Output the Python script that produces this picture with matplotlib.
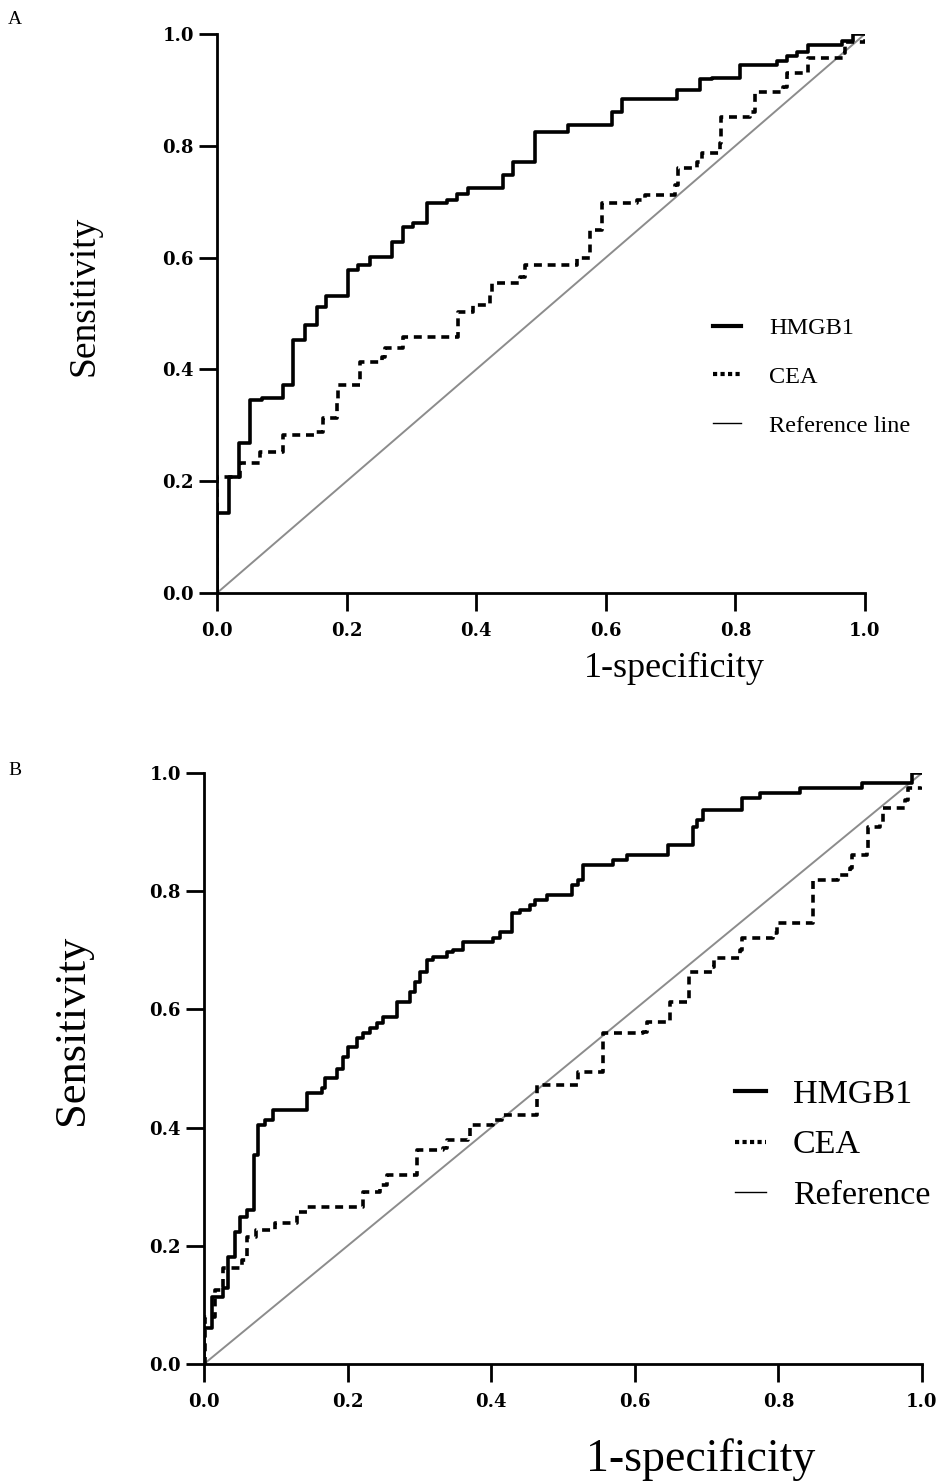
import numpy as np
import matplotlib.pyplot as plt
from matplotlib.lines import Line2D

# ROC step corners (x = 1-specificity, y = sensitivity)
hmgb1_a_x = [0.0, 0.0, 0.018, 0.034, 0.051, 0.069, 0.102, 0.118, 0.136, 0.154, 0.168, 0.202, 0.218,
             0.236, 0.27, 0.287, 0.302, 0.324, 0.355, 0.37, 0.387, 0.441, 0.457, 0.491, 0.542, 0.61,
             0.625, 0.71, 0.745, 0.764, 0.807, 0.864, 0.88, 0.895, 0.912, 0.964, 0.981, 1.0]
hmgb1_a_y = [0.0, 0.143, 0.208, 0.268, 0.345, 0.349, 0.372, 0.453, 0.479, 0.512, 0.531, 0.578, 0.587,
             0.601, 0.628, 0.655, 0.662, 0.698, 0.703, 0.714, 0.725, 0.748, 0.771, 0.825, 0.837, 0.86,
             0.884, 0.9, 0.919, 0.922, 0.945, 0.951, 0.96, 0.968, 0.98, 0.987, 1.0, 1.0]

cea_a_x = [0.0, 0.0, 0.035, 0.066, 0.102, 0.151, 0.164, 0.185, 0.187, 0.221, 0.221, 0.255, 0.259,
           0.287, 0.372, 0.372, 0.395, 0.421, 0.424, 0.468, 0.475, 0.556, 0.576, 0.594, 0.648, 0.66,
           0.707, 0.711, 0.741, 0.748, 0.776, 0.778, 0.822, 0.83, 0.873, 0.88, 0.91, 0.912, 0.966,
           0.969, 1.0]
cea_a_y = [0.0, 0.208, 0.232, 0.253, 0.282, 0.288, 0.313, 0.345, 0.372, 0.385, 0.413, 0.422, 0.438,
           0.458, 0.474, 0.503, 0.515, 0.537, 0.555, 0.565, 0.587, 0.599, 0.649, 0.698, 0.703, 0.712,
           0.73, 0.76, 0.771, 0.787, 0.805, 0.852, 0.86, 0.896, 0.905, 0.93, 0.93, 0.957, 0.966,
           0.986, 1.0]

hmgb1_b_x = [0.0, 0.0, 0.011, 0.027, 0.034, 0.043, 0.05, 0.06, 0.069, 0.075, 0.085, 0.096, 0.143,
             0.164, 0.169, 0.185, 0.194, 0.2, 0.213, 0.222, 0.231, 0.241, 0.25, 0.269, 0.287, 0.294,
             0.301, 0.31, 0.319, 0.338, 0.347, 0.361, 0.403, 0.412, 0.429, 0.44, 0.454, 0.461, 0.478,
             0.513, 0.521, 0.528, 0.57, 0.589, 0.646, 0.681, 0.686, 0.695, 0.749, 0.774, 0.83, 0.916,
             0.986, 1.0]
hmgb1_b_y = [0.0, 0.061, 0.113, 0.128, 0.181, 0.223, 0.249, 0.26, 0.354, 0.404, 0.413, 0.43, 0.458,
             0.467, 0.484, 0.5, 0.519, 0.536, 0.551, 0.56, 0.569, 0.577, 0.587, 0.613, 0.629, 0.646,
             0.663, 0.684, 0.689, 0.697, 0.7, 0.714, 0.721, 0.731, 0.763, 0.768, 0.777, 0.785, 0.794,
             0.81, 0.819, 0.844, 0.853, 0.861, 0.878, 0.909, 0.92, 0.937, 0.958, 0.966, 0.975, 0.983,
             1.0, 1.0]

cea_b_x = [0.0, 0.002, 0.015, 0.027, 0.053, 0.06, 0.073, 0.099, 0.129, 0.143, 0.194, 0.222, 0.245,
           0.255, 0.297, 0.297, 0.333, 0.338, 0.368, 0.37, 0.403, 0.415, 0.464, 0.464, 0.521, 0.556,
           0.556, 0.611, 0.617, 0.649, 0.649, 0.673, 0.675, 0.708, 0.71, 0.747, 0.749, 0.793, 0.798,
           0.848, 0.848, 0.883, 0.9, 0.902, 0.923, 0.925, 0.942, 0.946, 0.976, 0.98, 1.0]
cea_b_y = [0.0, 0.08, 0.125, 0.162, 0.176, 0.215, 0.227, 0.238, 0.257, 0.266, 0.266, 0.291, 0.303,
           0.32, 0.32, 0.362, 0.365, 0.379, 0.382, 0.404, 0.413, 0.421, 0.43, 0.472, 0.494, 0.531,
           0.56, 0.562, 0.579, 0.579, 0.613, 0.616, 0.663, 0.672, 0.687, 0.7, 0.721, 0.729, 0.746,
           0.768, 0.819, 0.827, 0.839, 0.861, 0.873, 0.909, 0.917, 0.941, 0.954, 0.975, 0.977]

ticks = [0.0, 0.2, 0.4, 0.6, 0.8, 1.0]
tick_labels = ["0.0", "0.2", "0.4", "0.6", "0.8", "1.0"]

W, H = 953, 1483
fig = plt.figure(figsize=(W / 100, H / 100), dpi=100)
serif = "Liberation Serif"


def roc_panel(rect, hx, hy, cx, cy, ref_label, ylab, xlab, leg, letter, letter_y):
    # rect and label positions given in pixels of the picture
    x0, x1, y0, y1 = rect
    ax = fig.add_axes([x0 / W, 1 - y0 / H, (x1 - x0) / W, (y0 - y1) / H])
    ax.plot([0, 1], [0, 1], color="#8c8c8c", lw=1.4, zorder=1)
    ax.plot(cx, cy, color="black", lw=2.6, linestyle=(0, (2.2, 1.6)),
            drawstyle="steps-post", zorder=2)
    ax.plot(hx, hy, color="black", lw=2.6, drawstyle="steps-post", zorder=3)
    ax.set_xlim(0, 1)
    ax.set_ylim(0, 1)
    for s in ["top", "right"]:
        ax.spines[s].set_visible(False)
    for s in ["left", "bottom"]:
        ax.spines[s].set_linewidth(2)
    ax.set_xticks(ticks)
    ax.set_yticks(ticks)
    ax.set_xticklabels(tick_labels, fontfamily="DejaVu Serif", fontweight="bold", fontsize=13)
    ax.set_yticklabels(tick_labels, fontfamily="DejaVu Serif", fontweight="bold", fontsize=13)
    ax.tick_params(direction="out", length=13, width=2)
    ax.tick_params(axis="x", pad=8)
    ax.tick_params(axis="y", pad=3.5)
    fig.text(ylab[0] / W, 1 - ylab[1] / H, "Sensitivity", fontfamily=serif, fontsize=ylab[2],
             rotation=90, ha="center", va="center")
    fig.text(xlab[0] / W, 1 - xlab[1] / H, "1-specificity", fontfamily=serif, fontsize=xlab[2],
             ha="center", va="center")
    handles = [Line2D([], [], color="black", lw=3),
               Line2D([], [], color="black", lw=3, linestyle=(0, (1, 0.8))),
               Line2D([], [], color="black", lw=1)]
    lx, ly, lsize, hlen, hpad, lspace = leg
    ax.legend(handles, ["HMGB1", "CEA", ref_label], frameon=False, loc="center left",
              bbox_to_anchor=((lx - x0) / (x1 - x0), (y0 - ly) / (y0 - y1)),
              borderpad=0, borderaxespad=0, handlelength=hlen, handletextpad=hpad,
              labelspacing=lspace, prop={"family": serif, "size": lsize})
    fig.text(8 / W, 1 - letter_y / H, letter, fontfamily=serif, fontsize=14, va="center")
    return ax


roc_panel((217, 865, 593, 34), hmgb1_a_x, hmgb1_a_y, cea_a_x, cea_a_y, "Reference line",
          (84, 296, 27), (674, 668, 26), (713, 377, 17.5, 1.15, 1.15, 1.1), "A", 19)
roc_panel((204, 922, 1364, 773), hmgb1_b_x, hmgb1_b_y, cea_b_x, cea_b_y, "Reference",
          (72, 1030, 32), (701, 1460, 33), (735, 1145, 24.5, 0.9, 0.8, 0.58), "B", 771)

fig.savefig("out.png", dpi=100)
